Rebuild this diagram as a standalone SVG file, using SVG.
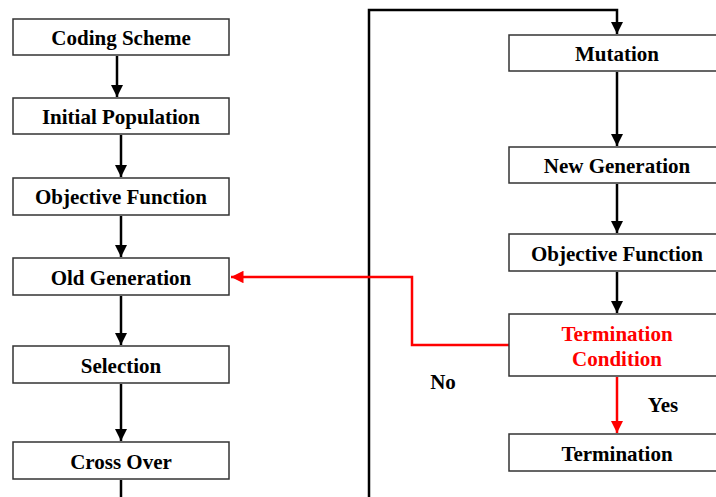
<svg xmlns="http://www.w3.org/2000/svg" width="716" height="497" viewBox="0 0 716 497">
<defs>
<marker id="ab" viewBox="0 0 10 10" refX="10" refY="5" markerWidth="5" markerHeight="5" orient="auto" markerUnits="strokeWidth"><path d="M0,0 L10,5 L0,10 z" fill="#000"/></marker>
<marker id="ar" viewBox="0 0 10 10" refX="10" refY="5" markerWidth="5" markerHeight="5" orient="auto" markerUnits="strokeWidth"><path d="M0,0 L10,5 L0,10 z" fill="#f00"/></marker>
<style>
.box{fill:#fff;stroke:#333;stroke-width:1.5}
.t{font-family:"Liberation Serif","Times New Roman",serif;font-weight:bold;font-size:21px;text-anchor:middle;fill:#000}
.red{fill:#f00}
.c{fill:none;stroke:#000;stroke-width:2.5}
.cr{fill:none;stroke:#f00;stroke-width:2.5}
</style>
</defs>
<g id="connectors">
<line class="c" x1="117" y1="56" x2="117" y2="97" marker-end="url(#ab)"/>
<line class="c" x1="121" y1="135" x2="121" y2="177" marker-end="url(#ab)"/>
<line class="c" x1="121" y1="216" x2="121" y2="257" marker-end="url(#ab)"/>
<line class="c" x1="121" y1="296" x2="121" y2="345" marker-end="url(#ab)"/>
<line class="c" x1="121" y1="384" x2="121" y2="441" marker-end="url(#ab)"/>
<line class="c" x1="121" y1="480" x2="121" y2="500"/>
<polyline class="c" points="369,500 369,10 617,10 617,34" marker-end="url(#ab)"/>
<line class="c" x1="617" y1="72" x2="617" y2="146" marker-end="url(#ab)"/>
<line class="c" x1="617" y1="184" x2="617" y2="233" marker-end="url(#ab)"/>
<line class="c" x1="617" y1="272" x2="617" y2="313" marker-end="url(#ab)"/>
<polyline class="cr" points="509,345 412,345 412,277 231,277" marker-end="url(#ar)"/>
<line class="cr" x1="617" y1="377" x2="617" y2="433" marker-end="url(#ar)"/>
<text class="t" x="443" y="389">No</text>
<text class="t" x="663" y="412">Yes</text>
</g>
<g id="coding"><rect class="box" x="13" y="19" width="216" height="36"/><text class="t" x="121" y="45">Coding Scheme</text></g>
<g id="initpop"><rect class="box" x="13" y="98" width="216" height="36"/><text class="t" x="121" y="124">Initial Population</text></g>
<g id="objfun1"><rect class="box" x="13" y="178" width="216" height="37"/><text class="t" x="121" y="204">Objective Function</text></g>
<g id="oldgen"><rect class="box" x="13" y="258" width="216" height="37"/><text class="t" x="121" y="285">Old Generation</text></g>
<g id="selection"><rect class="box" x="13" y="346" width="216" height="37"/><text class="t" x="121" y="373">Selection</text></g>
<g id="crossover"><rect class="box" x="13" y="442" width="216" height="37"/><text class="t" x="121" y="469">Cross Over</text></g>
<g id="mutation"><rect class="box" x="509" y="35" width="216" height="36"/><text class="t" x="617" y="61">Mutation</text></g>
<g id="newgen"><rect class="box" x="509" y="147" width="216" height="36"/><text class="t" x="617" y="173">New Generation</text></g>
<g id="objfun2"><rect class="box" x="509" y="234" width="216" height="37"/><text class="t" x="617" y="261">Objective Function</text></g>
<g id="termcond"><rect class="box" x="509" y="314" width="216" height="62"/><text class="t red" x="617" y="341">Termination</text><text class="t red" x="617" y="366">Condition</text></g>
<g id="termination"><rect class="box" x="509" y="434" width="216" height="37"/><text class="t" x="617" y="461">Termination</text></g>
</svg>
